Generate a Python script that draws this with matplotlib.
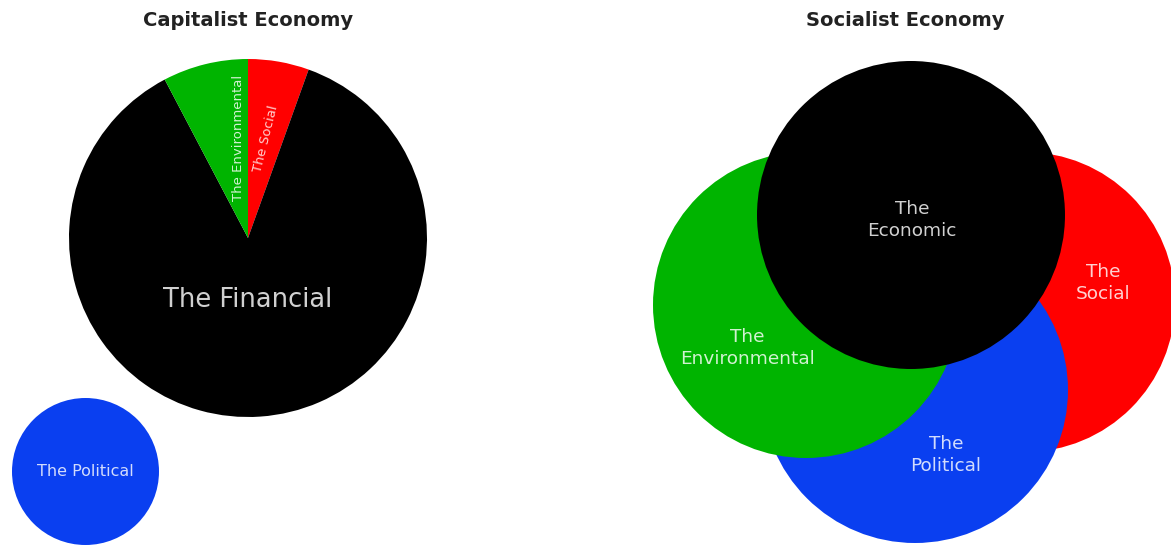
import matplotlib
matplotlib.use("Agg")
import matplotlib.pyplot as plt
from matplotlib.patches import Circle

# --- left panel: capitalist economy (pie) ---
pie_labels = ["The Social", "The Financial", "The Environmental"]
pie_shares = [5.5, 86.8, 7.7]
pie_colors = ["#ff0000", "#000000", "#00b400"]

# --- left panel: separate circle ---
lone_label = "The Political"
lone_center = (85.5, 73.5)
lone_radius = 73.5
lone_color = "#0a3ff0"

# --- right panel: socialist economy (overlapping circles, bottom to top) ---
venn_labels = ["The\nSocial", "The\nPolitical", "The\nEnvironmental", "The\nEconomic"]
venn_centers = [(1025, 243), (915, 155), (806, 240), (911, 330)]
venn_radii = [150, 153, 153, 154]
venn_colors = ["#ff0000", "#0a3ff0", "#00b400", "#000000"]
venn_text_pos = [(1103, 262), (946, 90), (747, 197), (912, 325)]

W, H = 1171, 545
fig = plt.figure(figsize=(W / 100, H / 100), dpi=100)
ax = fig.add_axes([0, 0, 1, 1])

txt = dict(color="white", alpha=0.82, family="DejaVu Sans")

# pie
wedges, _ = ax.pie(pie_shares, colors=pie_colors, startangle=90, counterclock=False,
                   center=(248, 307), radius=179, frame=True,
                   wedgeprops=dict(linewidth=0))
ax.text(248, 245, pie_labels[1], ha="center", va="center", fontsize=18.5, **txt)
ax.text(239, 407, pie_labels[2], ha="center", va="center", rotation=90, fontsize=9.5, **txt)
ax.text(266, 406, pie_labels[0], ha="center", va="center", rotation=76, fontsize=9.5, **txt)

ax.add_patch(Circle(lone_center, lone_radius, color=lone_color, lw=0))
ax.text(lone_center[0], lone_center[1], lone_label, ha="center", va="center", fontsize=11.5, **txt)

# overlapping circles
for c, r, col in zip(venn_centers, venn_radii, venn_colors):
    ax.add_patch(Circle(c, r, color=col, lw=0))
for lab, pos in zip(venn_labels, venn_text_pos):
    ax.text(pos[0], pos[1], lab, ha="center", va="center", fontsize=13.3,
            linespacing=1.25, **txt)

ax.text(248, 525, "Capitalist Economy", ha="center", va="center",
        fontsize=14, fontweight="bold", color="#222222")
ax.text(905, 525, "Socialist Economy", ha="center", va="center",
        fontsize=14, fontweight="bold", color="#222222")

ax.set_xlim(0, W)
ax.set_ylim(0, H)
ax.set_aspect("equal")
ax.axis("off")

fig.savefig("out.png", dpi=100, facecolor="white")
